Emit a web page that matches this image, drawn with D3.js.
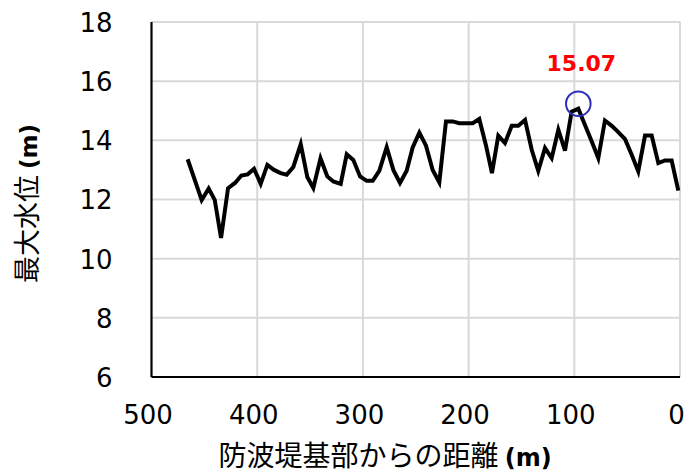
<!DOCTYPE html>
<html><head><meta charset="utf-8">
<script src="https://cdn.jsdelivr.net/npm/d3@7"></script>
<style>body{margin:0;background:#fff}svg{display:block}</style>
</head><body>
<script>
const distances = [465.8,452.5,445.9,440.2,434.2,427.6,421.0,415.0,409.0,403.0,396.7,390.4,384.1,377.8,372.1,365.8,358.8,352.6,346.9,340.1,333.7,328.0,321.0,315.3,309.1,302.7,296.4,290.7,284.5,277.5,271.2,264.9,258.6,252.9,246.6,240.3,234.0,227.7,221.4,215.0,208.8,202.5,196.1,189.9,183.5,177.9,171.9,165.6,159.2,153.0,146.6,140.3,134.1,127.7,121.4,115.1,108.8,102.5,96.2,89.9,83.5,77.3,71.0,64.6,58.4,52.0,45.7,39.5,33.1,26.8,20.5,14.2,7.9,1.6];
const waterLevels = [13.36,11.98,12.37,11.99,10.70,12.38,12.56,12.81,12.85,13.04,12.53,13.17,13.00,12.89,12.84,13.10,13.87,12.76,12.39,13.39,12.78,12.61,12.53,13.53,13.34,12.78,12.63,12.63,12.97,13.77,13.00,12.56,12.97,13.76,14.26,13.82,13.00,12.58,14.64,14.64,14.58,14.58,14.58,14.72,13.82,12.89,14.16,13.91,14.49,14.49,14.69,13.68,12.97,13.74,13.40,14.36,13.65,14.97,15.07,14.52,13.96,13.40,14.67,14.49,14.28,14.04,13.51,12.95,14.16,14.16,13.23,13.32,13.32,12.30];
const xTicks = [500,400,300,200,100,0];
const yTicks = [6,8,10,12,14,16,18];
const xTitle = "防波堤基部からの距離";
const yTitle = "最大水位";
const unitText = "(m)";
const peakLabel = "15.07";

const W = 687, H = 475;
const m = {left:151.5, right:7, top:22, bottom:98};
const svg = d3.select("body").append("svg").attr("width",W).attr("height",H);
const x = d3.scaleLinear().domain([500,0]).range([m.left, W-m.right]);
const y = d3.scaleLinear().domain([6,18]).range([H-m.bottom, m.top]);

// gridlines
const g = svg.append("g");
g.selectAll(".hg").data(yTicks.filter(t=>t>6)).join("line")
  .attr("x1",x(500)).attr("x2",x(0)).attr("y1",d=>y(d)).attr("y2",d=>y(d))
  .attr("stroke","#d9d9d9").attr("stroke-width",2);
g.selectAll(".vg").data(xTicks.filter(t=>t<500)).join("line")
  .attr("x1",d=>x(d)).attr("x2",d=>x(d)).attr("y1",y(6)).attr("y2",y(18))
  .attr("stroke","#d9d9d9").attr("stroke-width",2);

// axes
const xAxis = svg.append("g").attr("transform",`translate(0,${y(6)})`)
  .call(d3.axisBottom(x).tickValues(xTicks).tickSize(0).tickPadding(29).tickFormat(d3.format("d")));
const yAxis = svg.append("g").attr("transform",`translate(${x(500)},0)`)
  .call(d3.axisLeft(y).tickValues(yTicks).tickSize(0).tickPadding(39).tickFormat(d3.format("d")));
[xAxis,yAxis].forEach(a=>{
  a.select(".domain").attr("stroke","#000").attr("stroke-width",2.2);
  a.selectAll("text").attr("font-family","'DejaVu Sans', sans-serif").attr("font-size",26).attr("fill","#000");
});
xAxis.select(".domain").attr("d",`M${x(500)},0H${x(0)}`);
yAxis.select(".domain").attr("d",`M0,${y(6)}V${y(18)}`);
yAxis.selectAll("text").attr("dy","0.36em");
xAxis.selectAll("text").attr("dx",-4);

// line
const data = distances.map((d,i)=>({d, v: waterLevels[i]}));
svg.append("path").datum(data)
  .attr("fill","none").attr("stroke","#000").attr("stroke-width",4)
  .attr("stroke-linejoin","miter")
  .attr("d", d3.line().x(p=>x(p.d)).y(p=>y(p.v)));

// peak marker
const peak = data.reduce((a,b)=> b.v>a.v? b : a);
svg.append("circle").attr("cx",x(peak.d)).attr("cy",y(peak.v)-5).attr("r",12.3)
  .attr("fill","none").attr("stroke","#2e2eb8").attr("stroke-width",2);
svg.append("text").attr("x",x(peak.d)+3).attr("y",y(peak.v)-38)
  .attr("text-anchor","middle").attr("font-family","'DejaVu Sans', sans-serif")
  .attr("font-weight","bold").attr("font-size",22).attr("fill","#ff0000").text(peakLabel);

// titles
const xt = svg.append("text").attr("x",385).attr("y",466).attr("text-anchor","middle")
  .attr("font-family","'Noto Sans CJK JP', sans-serif").attr("font-size",28).attr("fill","#000");
xt.append("tspan").text(xTitle + " ");
xt.append("tspan").attr("font-weight","bold").attr("font-size",24).attr("font-family","'DejaVu Sans', sans-serif").text(unitText);

const yt = svg.append("text").attr("transform",`translate(37,${(y(6)+y(18))/2+4}) rotate(-90)`).attr("text-anchor","middle")
  .attr("font-family","'Noto Sans CJK JP', sans-serif").attr("font-size",27).attr("fill","#000");
yt.append("tspan").text(yTitle + " ");
yt.append("tspan").attr("font-weight","bold").attr("font-size",23).attr("font-family","'DejaVu Sans', sans-serif").text(unitText);
</script>
</body></html>
